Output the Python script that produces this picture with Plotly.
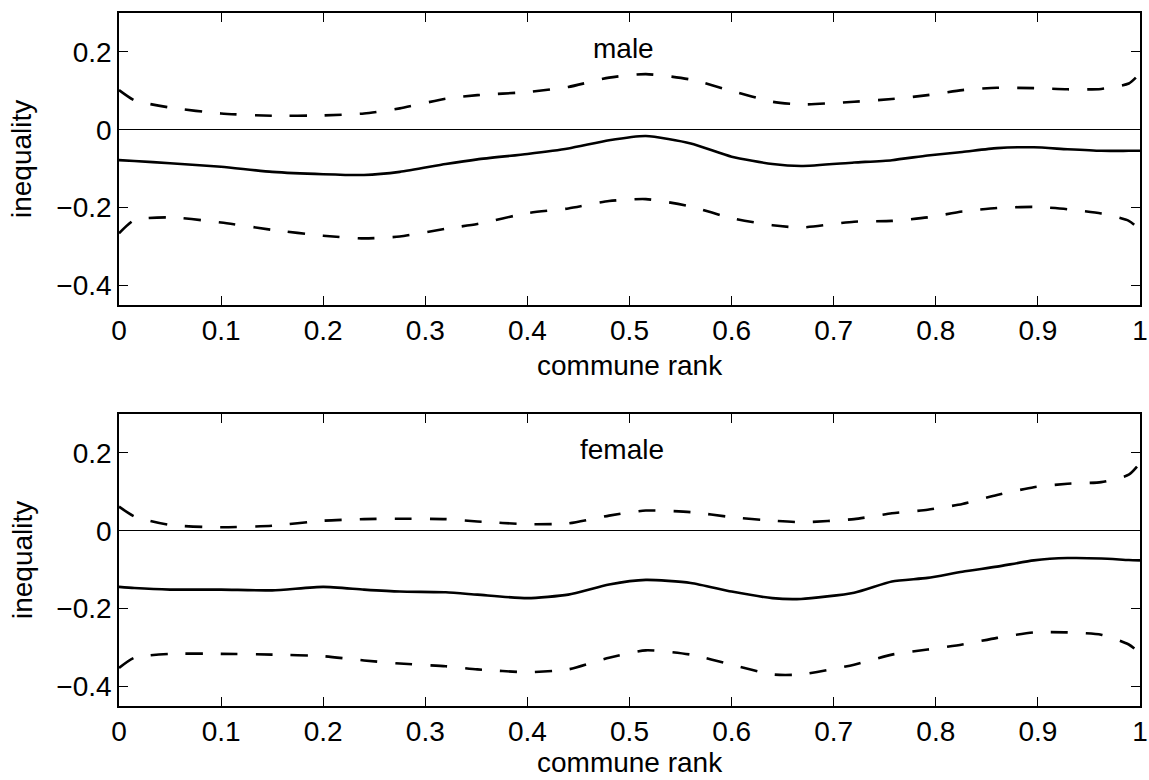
import plotly.graph_objects as go

# commune rank grid (shared by all curves)
rank = [0.0, 0.015, 0.05, 0.1, 0.15, 0.2, 0.24, 0.275, 0.32, 0.351, 0.4, 0.44,
        0.48, 0.516, 0.56, 0.6, 0.64, 0.668, 0.72, 0.757, 0.792, 0.826, 0.86,
        0.896, 0.929, 0.962, 0.989, 1.0]

# male: estimate and confidence band
male_est = [-0.078, -0.080, -0.086, -0.095, -0.108, -0.114, -0.116, -0.108,
            -0.088, -0.076, -0.062, -0.048, -0.027, -0.016, -0.035, -0.069,
            -0.088, -0.093, -0.084, -0.078, -0.066, -0.057, -0.047, -0.045,
            -0.050, -0.054, -0.054, -0.054]
male_up = [0.102, 0.076, 0.057, 0.042, 0.036, 0.037, 0.042, 0.055, 0.080,
           0.089, 0.097, 0.110, 0.134, 0.143, 0.129, 0.100, 0.072, 0.065,
           0.072, 0.079, 0.089, 0.102, 0.108, 0.107, 0.104, 0.105, 0.119, 0.145]
male_lo = [-0.266, -0.232, -0.225, -0.238, -0.257, -0.272, -0.279, -0.274,
           -0.254, -0.242, -0.214, -0.202, -0.183, -0.178, -0.197, -0.227,
           -0.245, -0.251, -0.236, -0.234, -0.225, -0.210, -0.201, -0.198,
           -0.204, -0.215, -0.234, -0.257]

# female: estimate and confidence band
female_est = [-0.144, -0.147, -0.151, -0.151, -0.153, -0.144, -0.151, -0.156,
              -0.158, -0.164, -0.173, -0.164, -0.138, -0.126, -0.134, -0.156,
              -0.173, -0.175, -0.159, -0.130, -0.121, -0.105, -0.092, -0.076,
              -0.070, -0.071, -0.075, -0.076]
female_up = [0.062, 0.037, 0.015, 0.009, 0.013, 0.026, 0.030, 0.031, 0.030,
             0.024, 0.017, 0.019, 0.039, 0.052, 0.048, 0.035, 0.026, 0.022,
             0.030, 0.045, 0.054, 0.069, 0.092, 0.112, 0.121, 0.125, 0.144, 0.174]
female_lo = [-0.352, -0.326, -0.316, -0.316, -0.318, -0.322, -0.333, -0.341,
             -0.348, -0.356, -0.363, -0.356, -0.326, -0.307, -0.318, -0.344,
             -0.369, -0.369, -0.344, -0.318, -0.305, -0.292, -0.275, -0.261,
             -0.261, -0.267, -0.292, -0.314]

panels = [("male", male_est, male_up, male_lo, 0.462),
          ("female", female_est, female_up, female_lo, 0.45)]

x_ticks = [0, 0.1, 0.2, 0.3, 0.4, 0.5, 0.6, 0.7, 0.8, 0.9, 1]
y_ticks = [-0.4, -0.2, 0, 0.2]

W, H = 1149, 780
FONT = "Liberation Sans, Arial, Helvetica, sans-serif"
FS = 28

# axes boxes in pixels: (left, right, top, bottom)
boxes = [(119, 1140, 13, 305), (119, 1140, 414, 706)]

fig = go.Figure()
DASH = "17px,18px"

for i, (name, est, up, lo, tx) in enumerate(panels):
    xa = "x" if i == 0 else "x2"
    ya = "y" if i == 0 else "y2"
    for ys, dash in ((up, DASH), (est, "solid"), (lo, DASH)):
        fig.add_trace(go.Scatter(
            x=rank, y=ys, mode="lines", xaxis=xa, yaxis=ya,
            line=dict(color="black", width=2.6, dash=dash,
                      shape="spline", smoothing=0.6),
            showlegend=False, hoverinfo="skip"))
    fig.add_annotation(x=tx, y=0.21, xref=xa, yref=ya, text=name,
                       showarrow=False, xanchor="left", yanchor="middle",
                       font=dict(family=FONT, size=FS, color="black"))

axis_common = dict(
    showline=True, linecolor="black", linewidth=1.5, mirror="ticks",
    ticks="inside", ticklen=9, tickwidth=1.3, tickcolor="black",
    showgrid=False, tickfont=dict(family=FONT, size=FS, color="black"),
    automargin=False,
)

layout = dict(
    width=W, height=H,
    margin=dict(l=0, r=0, t=0, b=0),
    paper_bgcolor="white", plot_bgcolor="white",
    showlegend=False,
)

for i, (l, r, t, b) in enumerate(boxes):
    xs = "" if i == 0 else "2"
    layout["xaxis" + xs] = dict(
        axis_common, domain=[l / W, r / W], range=[0, 1],
        tickvals=x_ticks, anchor="y" + xs, zeroline=False,
        ticklabelstandoff=0)
    layout["yaxis" + xs] = dict(
        axis_common, domain=[1 - b / H, 1 - t / H], range=[-0.45, 0.3],
        tickvals=y_ticks, anchor="x" + xs,
        zeroline=True, zerolinecolor="black", zerolinewidth=1,
        ticklabelstandoff=0)
    # x-axis title; the lower one sits flush with the bottom edge
    if i == 0:
        fig.add_annotation(x=(l + r) / 2 / W, y=1 - (b + 60) / H,
                           xref="paper", yref="paper", text="commune rank",
                           showarrow=False, xanchor="center",
                           yanchor="middle",
                           font=dict(family=FONT, size=FS, color="black"))
    else:
        fig.add_annotation(x=(l + r) / 2 / W, y=0, xref="paper",
                           yref="paper", text="commune rank",
                           showarrow=False, xanchor="center",
                           yanchor="bottom",
                           font=dict(family=FONT, size=FS, color="black"))
    # y-axis title
    fig.add_annotation(x=22 / W, y=1 - (t + b) / 2 / H, xref="paper",
                       yref="paper", text="inequality", showarrow=False,
                       textangle=-90, xanchor="center", yanchor="middle",
                       font=dict(family=FONT, size=FS, color="black"))

fig.update_layout(**layout)
fig.write_html("out.html")
